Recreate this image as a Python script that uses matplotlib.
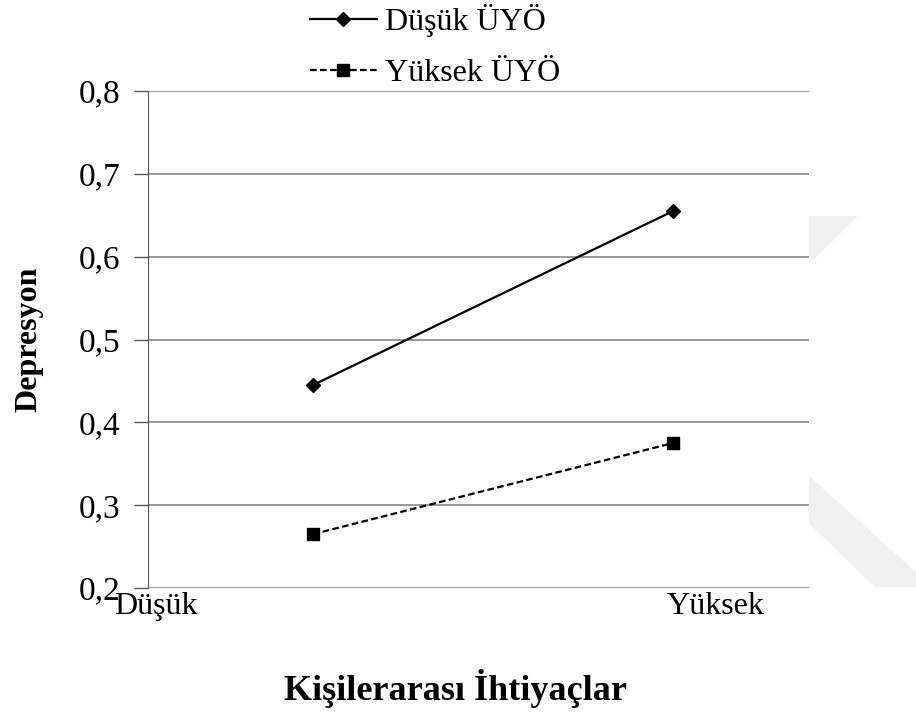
"""
Depresyon by Kisilerarasi Ihtiyaclar, low vs high UYO
Recreation of an Excel-style interaction plot
"""
import matplotlib
matplotlib.use('Agg')
import matplotlib.pyplot as plt
from matplotlib.patches import Polygon

plt.rcParams['font.family'] = ['Liberation Serif', 'DejaVu Serif']

# data
x_pos = [1, 3]
cat_labels = ['Düşük', 'Yüksek']
low_uyo = [0.445, 0.655]
high_uyo = [0.265, 0.375]
series_names = ['Düşük ÜYÖ', 'Yüksek ÜYÖ']
yticks = [0.2, 0.3, 0.4, 0.5, 0.6, 0.7, 0.8]

W, H = 916, 713
fig = plt.figure(figsize=(W/100, H/100), dpi=100)

# faint watermark shapes on the right (pixel coords -> figure fraction)
def fpoly(pts):
    return Polygon([(x/W, 1 - y/H) for x, y in pts], closed=True,
                   transform=fig.transFigure, facecolor='#f0f0f0',
                   edgecolor='none', zorder=0)
fig.patches.append(fpoly([(790, 216), (858, 216), (790, 283)]))
fig.patches.append(fpoly([(790, 459), (916, 572), (916, 587), (875, 587), (790, 505)]))

ax = fig.add_axes([148/W, 1 - 588/H, (809 - 148)/W, (588 - 91)/H])
ax.set_facecolor('white')
ax.set_zorder(1)

ax.plot(x_pos, low_uyo, color='black', lw=1.6, marker='D', ms=7,
        label=series_names[0])
ax.plot(x_pos, high_uyo, color='black', lw=1.6, ls=(0, (3, 1.5)),
        marker='s', ms=9, label=series_names[1])

ax.set_xlim(1 - 165/180, 3 + 136/180)
ax.set_ylim(0.2, 0.8)
ax.set_yticks(yticks)
ax.set_yticklabels([f'{v:.1f}'.replace('.', ',') for v in yticks], fontsize=24)
ax.yaxis.grid(True, color='#888888', lw=1.2)
ax.set_axisbelow(True)

ax.set_xticks([1 - 165/180 + 8/180, 1 - 165/180 + 568/180])
ax.set_xticklabels(cat_labels, fontsize=23)
ax.tick_params(axis='x', length=0, pad=3)
ax.tick_params(axis='y', length=10, width=1, color='#555555', pad=10)

for s in ['top', 'right', 'bottom']:
    ax.spines[s].set_visible(False)
ax.spines['left'].set_color('#555555')

ax.set_ylabel('Depresyon', fontsize=23, fontweight='bold')
ax.yaxis.set_label_coords((43 - 148)/661, 0.5)
fig.text(456/W, 1 - 689/H, 'Kişilerarası İhtiyaçlar',
         ha='center', va='center', fontsize=26, fontweight='bold')

fig.legend(loc='center', bbox_to_anchor=(435/W, 1 - 46/H), frameon=False,
           fontsize=23, handlelength=2.1, handletextpad=0.25, labelspacing=0.68,
           borderpad=0)

fig.savefig('out.png', dpi=100, facecolor='white')
